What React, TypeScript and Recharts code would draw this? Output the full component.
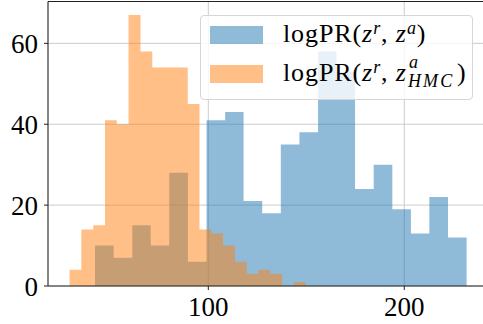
import React from "react";
import {
  ComposedChart,
  Area,
  XAxis,
  YAxis,
  CartesianGrid,
  Legend,
  ReferenceLine,
} from "recharts";

// Bin edges and bin counts for each histogram
const blueEdges = [42.2, 51.7, 61.2, 70.6, 80.1, 89.6, 99.1, 108.6, 118.0, 127.5, 137.0, 146.5, 156.0, 165.4, 174.9, 184.4, 193.9, 203.4, 212.8, 222.3, 231.8];
const blueCounts = [10, 7, 15, 10, 28, 6, 41, 43, 21, 18, 35, 38, 58, 53, 24, 30, 19, 13, 22, 12];
const orangeEdges = [29.2, 35.2, 41.3, 47.3, 53.3, 59.3, 65.4, 71.4, 77.4, 83.4, 89.5, 95.5, 101.5, 107.5, 113.6, 119.6, 125.6, 131.6, 137.7, 143.7, 149.7];
const orangeCounts = [4, 14, 15, 41, 40, 67, 58, 54, 54, 54, 45, 14, 13, 10, 6, 3, 4, 3, 0, 1];

const xTicks = [100, 200];
const yTicks = [0, 20, 40, 60];
const xDomain: [number, number] = [18.2, 241.7];
const yDomain: [number, number] = [0, 70.35];

const valueAt = (edges: number[], counts: number[], x: number) => {
  for (let i = 0; i < counts.length; i++) {
    if (x >= edges[i] && x < edges[i + 1]) return counts[i];
  }
  return 0;
};

const xs = Array.from(new Set([...blueEdges, ...orangeEdges])).sort((a, b) => a - b);
const data = xs.map((x) => ({
  x,
  blue: valueAt(blueEdges, blueCounts, x),
  orange: valueAt(orangeEdges, orangeCounts, x),
}));

const FONT = '"Liberation Serif", "Times New Roman", serif';
const SPINE = "#222222";

const Z = () => <i>z</i>;
const supStyle: React.CSSProperties = { fontSize: 18, verticalAlign: "0.42em", lineHeight: 0 };

const LegendBox = () => (
  <div
    style={{
      boxSizing: "border-box",
      width: 273,
      height: 85,
      border: "1px solid #d6d6d6",
      borderRadius: 4,
      background: "rgba(255,255,255,0.8)",
      position: "relative",
      fontFamily: FONT,
      fontSize: 26,
      color: "#000",
      letterSpacing: 0.9,
      textAlign: "left",
    }}
  >
    <div style={{ position: "absolute", left: 9, top: 10, width: 53, height: 18, background: "rgba(31,119,180,0.5)" }} />
    <div style={{ position: "absolute", left: 9, top: 49, width: 53, height: 18, background: "rgba(255,127,14,0.5)" }} />
    <div style={{ position: "absolute", left: 82, top: 3, lineHeight: "30px", whiteSpace: "nowrap" }}>
      logPR(<Z />
      <sup style={supStyle}><i>r</i></sup>, <Z />
      <sup style={supStyle}><i>a</i></sup>)
    </div>
    <div style={{ position: "absolute", left: 82, top: 42, lineHeight: "30px", whiteSpace: "nowrap" }}>
      logPR(<Z />
      <sup style={supStyle}><i>r</i></sup>, <Z />
      <span
        style={{
          display: "inline-block",
          position: "relative",
          width: 50,
          height: 10,
          fontSize: 18,
        }}
      >
        <i style={{ position: "absolute", left: 2, top: -17.6, lineHeight: "18px" }}>a</i>
        <i style={{ position: "absolute", left: 1, top: 0.9, lineHeight: "18px", letterSpacing: 2.2 }}>HMC</i>
      </span>
      )
    </div>
  </div>
);

export default function App() {
  return (
    <div style={{ position: "absolute", left: 0, top: 0, width: 483, height: 324, overflow: "hidden", background: "#fff" }}>
      <ComposedChart
        width={490}
        height={324}
        data={data}
        margin={{ top: 1.5, right: 4, bottom: 0, left: 0 }}
      >
        <CartesianGrid stroke="#cccccc" strokeWidth={1} />
        <XAxis
          type="number"
          dataKey="x"
          domain={xDomain}
          ticks={xTicks}
          allowDataOverflow
          height={38}
          tickSize={4}
          tickMargin={7}
          axisLine={{ stroke: SPINE, strokeWidth: 1 }}
          tickLine={{ stroke: SPINE, strokeWidth: 1 }}
          tick={{ fill: "#000", fontSize: 27, fontFamily: FONT }}
        />
        <YAxis
          type="number"
          domain={yDomain}
          ticks={yTicks}
          allowDataOverflow
          width={48}
          tickSize={4}
          tickMargin={6}
          axisLine={{ stroke: SPINE, strokeWidth: 1 }}
          tickLine={{ stroke: SPINE, strokeWidth: 1 }}
          tick={{ fill: "#000", fontSize: 27, fontFamily: FONT }}
        />
        <Area
          type="stepAfter"
          dataKey="blue"
          stroke="none"
          fill="#1f77b4"
          fillOpacity={0.5}
          dot={false}
          activeDot={false}
          isAnimationActive={false}
        />
        <Area
          type="stepAfter"
          dataKey="orange"
          stroke="none"
          fill="#ff7f0e"
          fillOpacity={0.5}
          dot={false}
          activeDot={false}
          isAnimationActive={false}
        />
        <ReferenceLine y={yDomain[1]} stroke={SPINE} strokeWidth={1} ifOverflow="visible" />
        <Legend
          layout="horizontal"
          verticalAlign="middle"
          align="center"
          wrapperStyle={{ left: 200, top: 15, width: 273, height: 85 }}
          content={() => <LegendBox />}
        />
      </ComposedChart>
    </div>
  );
}
